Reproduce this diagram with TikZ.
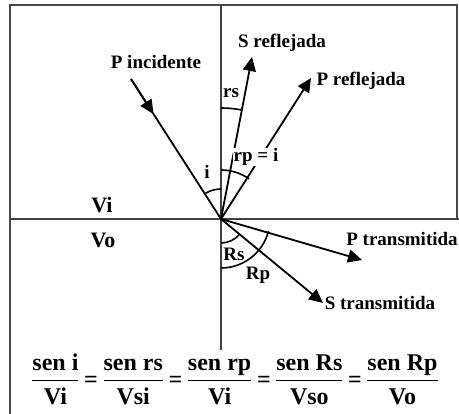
\documentclass[tikz,border=0pt]{standalone}
\usepackage{amsmath}
\usepackage{fontspec}
\setmainfont{Liberation Serif}
\usetikzlibrary{arrows.meta,calc}
\newcommand{\eqsgn}{\text{\hspace{4.5pt}=\hspace{4.5pt}}}
\begin{document}
\begin{tikzpicture}[x=1pt,y=1pt,
  lbl/.style={font=\bfseries\fontsize{19}{21}\selectfont, inner sep=1pt},
  region/.style={font=\bfseries\fontsize{22}{24}\selectfont, inner sep=1pt},
  frameline/.style={draw=black!72, line width=2pt},
  axis/.style={draw=black!75, line width=1.5pt},
  ray/.style={draw=black, line width=1.8pt},
  arr/.style={ray, -{Triangle[length=14pt,width=13pt]}},
  angarc/.style={draw=black, line width=1.6pt}]
\useasboundingbox (0,0) rectangle (459,-414);
\fill[white] (0,0) rectangle (459,-414);
% frame and axes
\coordinate (TL) at (10,-5);
\coordinate (TR) at (457,-5);
\coordinate (BL) at (10,-414);
\coordinate (RB) at (457,-219);
\coordinate (HL) at (10,-219);
\coordinate (HR) at (459,-219);
\coordinate (VT) at (221,-5);
\coordinate (VB) at (221,-350);
\draw[frameline] (BL) -- (TL) -- (TR) -- (RB);
\draw[axis] (HL) -- (HR);
\draw[axis] (VT) -- (VB);
% rays
\coordinate (O) at (221,-219);
\coordinate (A) at (131,-79);
\coordinate (SR) at (252,-57);
\coordinate (PR) at (311,-78);
\coordinate (PT) at (362,-260);
\coordinate (ST) at (323,-303);
\draw[ray] (A) -- (O);
\draw[arr] (A) -- ($(A)!0.25!(O)$);
\draw[arr] (O) -- (SR);
\draw[arr] (O) -- (PR);
\draw[arr] (O) -- (PT);
\draw[arr] (O) -- (ST);
% angle arcs
\draw[angarc] ($(O)+(90:30)$) arc[start angle=90,end angle=122.7,radius=30];
\draw[angarc] ($(O)+(90:111)$) arc[start angle=90,end angle=79.2,radius=111];
\draw[angarc] ($(O)+(90:49)$) arc[start angle=90,end angle=55,radius=49];
\draw[angarc] ($(O)+(270:24)$) arc[start angle=270,end angle=320.6,radius=24];
\draw[angarc] ($(O)+(270:49)$) arc[start angle=270,end angle=345.5,radius=49];
% labels
\node[lbl] (pin) at (156,-62) {P incidente};
\node[lbl] (srl) at (282,-43) {S reflejada};
\node[lbl] (prl) at (361,-81) {P reflejada};
\node[lbl] (rs) at (231,-93) {rs};
\node[lbl] (il) at (207,-172) {i};
\node[lbl, fill=white, inner sep=0.5pt] (rp) at (256,-157) {rp = i};
\node[region] (vi) at (102,-205) {Vi};
\node[region] (vo) at (103,-240) {Vo};
\node[lbl] (ptl) at (402,-239) {P transmitida};
\node[lbl] (stl) at (380,-303) {S transmitida};
\node[lbl] (Rs) at (234,-254) {Rs};
\node[lbl] (Rp) at (258,-275) {Rp};
% equation
\node[font=\bfseries\fontsize{24}{26}\selectfont, inner sep=0pt] (eq) at (235,-379)
 {$\dfrac{\text{sen i}}{\text{Vi}}\eqsgn\dfrac{\text{sen rs}}{\text{Vsi}}\eqsgn\dfrac{\text{sen rp}}{\text{Vi}}\eqsgn\dfrac{\text{sen Rs}}{\text{Vso}}\eqsgn\dfrac{\text{sen Rp}}{\text{Vo}}$};
\end{tikzpicture}
\end{document}
